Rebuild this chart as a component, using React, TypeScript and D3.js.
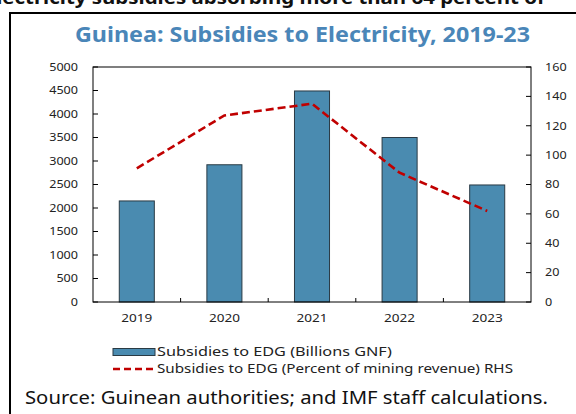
import React from "react";
import * as d3 from "d3";

const years = ["2019", "2020", "2021", "2022", "2023"];
const subsidiesGNF = [2150, 2920, 4490, 3500, 2490];
const subsidiesPctMining = [91, 127, 135, 88, 62];
const leftTicks = [0, 500, 1000, 1500, 2000, 2500, 3000, 3500, 4000, 4500, 5000];
const rightTicks = [0, 20, 40, 60, 80, 100, 120, 140, 160];

const W = 576;
const H = 414;
const FONT = "'Noto Sans', 'Open Sans', sans-serif";

export default function App() {
  const left = 93, right = 531, top = 67, bottom = 302;
  const x = d3.scaleBand<string>().domain(years).range([left, right]).paddingInner(0.6).paddingOuter(0.3);
  const yL = d3.scaleLinear().domain([0, 5000]).range([bottom, top]);
  const yR = d3.scaleLinear().domain([0, 160]).range([bottom, top]);
  const step = x.step();
  const line = d3
    .line<number>()
    .x((_, i) => (x(years[i]) as number) + x.bandwidth() / 2)
    .y((d) => yR(d));

  const barColor = "#4a8bb0";
  const red = "#c00000";
  const digitW = 7.2;

  return (
    <svg
      width={W}
      height={H}
      style={{ position: "absolute", left: 0, top: 0, background: "#fff" }}
      fontFamily={FONT}
    >
      <text x={-16} y={4} fontWeight="bold" fontSize={18} fill="#111" textLength={561} lengthAdjust="spacingAndGlyphs">
        electricity subsidies absorbing more than 64 percent of
      </text>
      <rect x={10} y={13} width={600} height={450} fill="none" stroke="#000" strokeWidth={2} />
      <text x={75} y={42} fontWeight="bold" fontSize={22} fill="#4a86b8" textLength={455} lengthAdjust="spacingAndGlyphs">
        Guinea: Subsidies to Electricity, 2019-23
      </text>

      {/* bars */}
      {years.map((yr, i) => (
        <rect
          key={yr}
          x={x(yr)}
          y={yL(subsidiesGNF[i])}
          width={x.bandwidth()}
          height={bottom - yL(subsidiesGNF[i])}
          fill={barColor}
          stroke="#2a3a44"
          strokeWidth={1}
        />
      ))}

      {/* plot frame */}
      <rect x={left} y={top} width={right - left} height={bottom - top} fill="none" stroke="#000" strokeWidth={1} />

      {/* left ticks */}
      {leftTicks.map((t) => {
        const s = String(t);
        const w = s.length * digitW;
        return (
          <g key={"l" + t}>
            <line x1={left} x2={left + 5} y1={yL(t)} y2={yL(t)} stroke="#000" />
            <text x={78 - w} y={yL(t)} dy="0.35em" fontSize={11} fill="#222" textLength={w} lengthAdjust="spacingAndGlyphs">
              {s}
            </text>
          </g>
        );
      })}
      {/* right ticks */}
      {rightTicks.map((t) => {
        const s = String(t);
        const w = s.length * digitW;
        return (
          <g key={"r" + t}>
            <line x1={right - 5} x2={right} y1={yR(t)} y2={yR(t)} stroke="#000" />
            <text x={545} y={yR(t)} dy="0.35em" fontSize={11} fill="#222" textLength={w} lengthAdjust="spacingAndGlyphs">
              {s}
            </text>
          </g>
        );
      })}
      {/* x ticks at category boundaries */}
      {years.slice(1).map((yr) => (
        <line
          key={"xt" + yr}
          x1={(x(yr) as number) - (step - x.bandwidth()) / 2}
          x2={(x(yr) as number) - (step - x.bandwidth()) / 2}
          y1={bottom}
          y2={bottom - 4}
          stroke="#000"
        />
      ))}
      {years.map((yr) => {
        const cx = (x(yr) as number) + x.bandwidth() / 2;
        const w = 31;
        return (
          <text
            key={"xl" + yr}
            x={cx - w / 2}
            y={318}
            dy="0.35em"
            fontSize={11.5}
            fill="#222"
            textLength={w}
            lengthAdjust="spacingAndGlyphs"
          >
            {yr}
          </text>
        );
      })}

      {/* line */}
      <path
        d={line(subsidiesPctMining) || ""}
        fill="none"
        stroke={red}
        strokeWidth={2.6}
        strokeDasharray="8,4"
      />

      {/* legend */}
      <rect x={113} y={348.5} width={42} height={7} fill={barColor} stroke="#2a3a44" strokeWidth={1} />
      <text x={157} y={352} dy="0.35em" fontSize={12.5} fill="#222" textLength={235} lengthAdjust="spacingAndGlyphs">
        Subsidies to EDG (Billions GNF)
      </text>
      <line x1={113} x2={155} y1={369} y2={369} stroke={red} strokeWidth={2.4} strokeDasharray="7,4" />
      <text x={157} y={369} dy="0.35em" fontSize={12.5} fill="#222" textLength={356} lengthAdjust="spacingAndGlyphs">
        Subsidies to EDG (Percent of mining revenue) RHS
      </text>

      <text x={25} y={404} fontSize={18} fill="#111" textLength={523} lengthAdjust="spacingAndGlyphs">
        Source: Guinean authorities; and IMF staff calculations.
      </text>
    </svg>
  );
}
